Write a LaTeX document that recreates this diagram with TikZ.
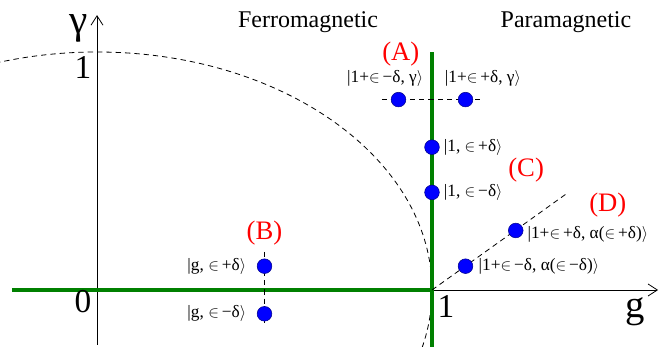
\documentclass[tikz,border=0pt]{standalone}
\usepackage{fontspec}
\setmainfont{Liberation Serif}
\usetikzlibrary{positioning,arrows.meta}
\definecolor{crit}{HTML}{008000}

\begin{document}
\begin{tikzpicture}[x=251.25pt, y=178.5pt, font=\fontsize{13}{15}\selectfont,
  dot/.style={circle, fill=blue, draw=blue!55!black, line width=0.4pt, inner sep=0pt, minimum size=11pt},
  ket/.style={inner sep=1pt},
  tag/.style={text=red, font=\fontsize{20}{24}\selectfont},
  axlab/.style={font=\fontsize{25}{28}\selectfont},
  phase/.style={font=\fontsize{18}{22}\selectfont},
  dsh/.style={dash pattern=on 4pt off 3pt, line width=0.6pt}]
\newcommand{\kt}[1]{|#1$\rangle$}
\newcommand{\eps}{$\in$\,}
\useasboundingbox (-0.2896,-0.2395) rectangle (1.7015,1.2185);
\begin{scope}
  \clip (-0.2896,-0.2395) rectangle (1.7015,1.2185);
  \draw[dsh] (0,0) ellipse [x radius=1, y radius=1];
\end{scope}
% axes
\coordinate (xs) at (-0.254,0);
\coordinate (xe) at (1.675,0);
\coordinate (ys) at (0,-0.231);
\coordinate (ye) at (0,1.155);
\coordinate (O) at (1,0);
\coordinate (gs) at (1,-0.24);
\coordinate (gt) at (1,1.0);
\draw[line width=0.6pt, -{Straight Barb[length=7pt,width=9pt]}] (xs) -- (xe);
\draw[line width=0.6pt, -{Straight Barb[length=7pt,width=9pt]}] (ys) -- (ye);
\draw[crit, line width=3pt] (xs) -- (O);
\draw[crit, line width=3pt] (gs) -- (gt);
\node[axlab, font=\fontsize{31}{34}\selectfont] (gam) at (-0.056,1.10) {γ};
\node[axlab] (one) at (-0.042,0.933) {1};
\node[axlab] (zero) at (-0.042,-0.05) {0};
\node[axlab] (gone) at (1.042,-0.071) {1};
\node[axlab, font=\fontsize{29}{32}\selectfont] (glab) at (1.607,-0.092) {g};
\node[phase] (ferro) at (0.630,1.126) {Ferromagnetic};
\node[phase] (para) at (1.400,1.126) {Paramagnetic};
% (A)
\coordinate (aL) at (0.85,0.8);
\coordinate (aR) at (1.15,0.8);
\draw[dsh] (aL) -- (aR);
\node[dot] (a1) at (0.9,0.8) {};
\node[dot] (a2) at (1.1,0.8) {};
\node[ket] (ka1) at (0.860,0.887) {\kt{1+\eps−δ, γ}};
\node[ket] (ka2) at (1.152,0.887) {\kt{1+\eps+δ, γ}};
\node[tag] (A) at (0.907,0.992) {(A)};
% (B)
\coordinate (bT) at (0.5,0.16);
\coordinate (bB) at (0.5,-0.139);
\draw[dsh] (bT) -- (bB);
\node[dot] (b1) at (0.5,0.1) {};
\node[dot] (b2) at (0.5,-0.1) {};
\node[ket, left=7pt of b1] (kb1) {\kt{g, \eps+δ}};
\node[ket, left=7pt of b2] (kb2) {\kt{g, \eps−δ}};
\node[tag] (B) at (0.5,0.24) {(B)};
% (C)
\node[dot] (c1) at (1,0.6) {};
\node[dot] (c2) at (1,0.41) {};
\node[ket, right=2pt of c1] (kc1) {\kt{1, \eps+δ}};
\node[ket, right=2pt of c2] (kc2) {\kt{1, \eps−δ}};
\node[tag] (C) at (1.281,0.504) {(C)};
% (D)
\coordinate (dE) at (1.4,0.403);
\draw[dsh] (O) -- (dE);
\node[dot] (d1) at (1.1,0.1) {};
\node[dot] (d2) at (1.25,0.25) {};
\node[ket, right=3pt of d1] (kd1) {\kt{1+\eps−δ, α(\eps−δ)}};
\node[ket, right=2pt of d2, yshift=-3pt] (kd2) {\kt{1+\eps+δ, α(\eps+δ)}};
\node[tag] (D) at (1.525,0.357) {(D)};
\end{tikzpicture}
\end{document}
